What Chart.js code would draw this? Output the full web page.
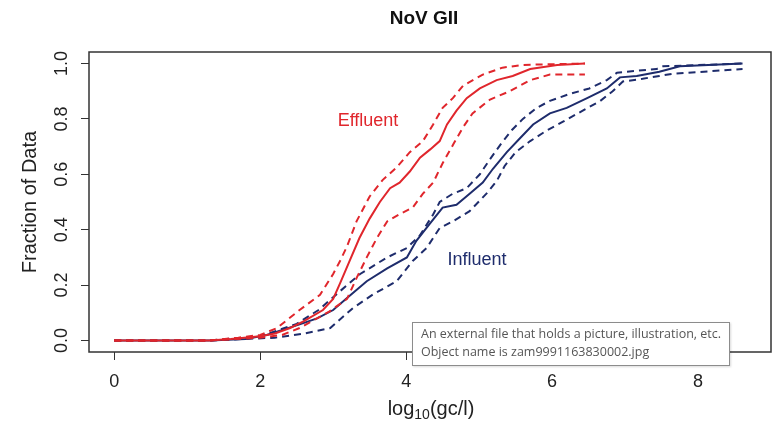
<!DOCTYPE html>
<html>
<head>
<meta charset="utf-8">
<script src="https://cdn.jsdelivr.net/npm/chart.js@4"></script>
<style>
  body { margin: 0; background: #fff; }
  .wrap { position: relative; width: 773px; height: 422px; }
  .tip {
    position: absolute; left: 412px; top: 322px; width: 308px; height: 40px;
    padding: 2px 0 0 8px; border: 1px solid #8c8c8c; background: #fff;
    font: 12.5px "Open Sans", sans-serif; color: #555; line-height: 18px;
    box-shadow: 1px 1px 2px rgba(0,0,0,0.15);
  }
</style>
</head>
<body>
<div class="wrap">
  <canvas id="myChart" width="773" height="422"></canvas>
  <div class="tip">An external file that holds a picture, illustration, etc.<br>Object name is zam9991163830002.jpg</div>
</div>
<script>
// tick labels
const xTicks = [0, 2, 4, 6, 8];
const yTicks = [0, 0.2, 0.4, 0.6, 0.8, 1.0];
const yTickLabels = ['0.0', '0.2', '0.4', '0.6', '0.8', '1.0'];

// effluent ECDF + bounds
const effMidX = [0, 1.3, 1.6, 2.0, 2.2, 2.41, 2.6, 2.86, 3.0, 3.1, 3.23, 3.36, 3.5, 3.64, 3.78, 3.91, 4.05, 4.19, 4.33, 4.46, 4.56, 4.69, 4.83, 5.01, 5.24, 5.46, 5.7, 6.07, 6.45];
const effMidY = [0, 0, 0.005, 0.015, 0.025, 0.045, 0.07, 0.11, 0.15, 0.21, 0.29, 0.37, 0.44, 0.50, 0.55, 0.57, 0.61, 0.66, 0.69, 0.72, 0.78, 0.83, 0.875, 0.91, 0.94, 0.955, 0.98, 0.995, 1.0];
const effHiX = [0, 1.3, 1.7, 2.0, 2.23, 2.54, 2.82, 3.0, 3.1, 3.19, 3.32, 3.5, 3.68, 3.87, 4.05, 4.23, 4.37, 4.5, 4.64, 4.78, 5.05, 5.32, 5.6, 6.45];
const effHiY = [0, 0, 0.01, 0.02, 0.045, 0.11, 0.165, 0.24, 0.29, 0.34, 0.43, 0.52, 0.58, 0.625, 0.68, 0.72, 0.78, 0.84, 0.875, 0.92, 0.96, 0.985, 0.995, 1.0];
const effLoX = [0, 1.3, 2.0, 2.3, 2.54, 2.95, 3.19, 3.32, 3.46, 3.6, 3.74, 3.91, 4.09, 4.23, 4.37, 4.5, 4.65, 4.78, 4.91, 5.15, 5.42, 5.7, 5.97, 6.45];
const effLoY = [0, 0, 0.01, 0.02, 0.045, 0.105, 0.15, 0.225, 0.30, 0.37, 0.43, 0.456, 0.48, 0.53, 0.57, 0.64, 0.71, 0.77, 0.82, 0.87, 0.90, 0.94, 0.96, 0.96];

// influent ECDF + bounds
const infMidX = [0, 1.3, 1.8, 2.09, 2.54, 2.78, 3.0, 3.19, 3.46, 3.74, 4.01, 4.14, 4.32, 4.5, 4.69, 4.87, 5.05, 5.19, 5.38, 5.56, 5.74, 5.97, 6.2, 6.48, 6.75, 6.93, 7.16, 7.47, 7.75, 8.61];
const infMidY = [0, 0, 0.005, 0.02, 0.058, 0.08, 0.11, 0.153, 0.214, 0.26, 0.30, 0.36, 0.42, 0.48, 0.49, 0.53, 0.57, 0.62, 0.68, 0.73, 0.78, 0.82, 0.84, 0.875, 0.91, 0.95, 0.955, 0.97, 0.99, 1.0];
const infHiX = [0, 1.3, 2.0, 2.5, 2.8, 3.09, 3.37, 3.74, 4.01, 4.19, 4.37, 4.46, 4.64, 4.83, 5.01, 5.15, 5.3, 5.45, 5.6, 5.79, 5.97, 6.24, 6.51, 6.75, 6.89, 7.16, 7.43, 7.52, 8.61];
const infHiY = [0, 0, 0.015, 0.06, 0.11, 0.177, 0.24, 0.30, 0.334, 0.38, 0.455, 0.50, 0.53, 0.55, 0.60, 0.655, 0.71, 0.76, 0.80, 0.84, 0.865, 0.89, 0.91, 0.94, 0.967, 0.974, 0.98, 0.99, 1.0];
const infLoX = [0, 1.3, 2.2, 2.6, 2.96, 3.27, 3.55, 3.87, 4.09, 4.28, 4.46, 4.64, 4.87, 5.1, 5.24, 5.35, 5.5, 5.7, 5.92, 6.15, 6.42, 6.66, 6.83, 6.97, 7.24, 7.47, 7.65, 8.61];
const infLoY = [0, 0, 0.01, 0.025, 0.045, 0.117, 0.167, 0.214, 0.287, 0.334, 0.406, 0.43, 0.467, 0.53, 0.575, 0.63, 0.68, 0.72, 0.757, 0.79, 0.83, 0.865, 0.90, 0.935, 0.945, 0.955, 0.963, 0.98];

const RED = '#e0262c';
const NAVY = '#1e2c6c';
const FONT = '"Liberation Sans", Arial, sans-serif';

const pts = (xs, ys) => xs.map((x, i) => ({ x: x, y: ys[i] }));
const curve = (xs, ys, color, dashed) => ({
  data: pts(xs, ys),
  borderColor: color,
  borderWidth: 2,
  borderDash: dashed ? [7, 5] : [],
  showLine: true,
  pointRadius: 0,
  tension: 0,
  fill: false
});

// box around the plot + all the R-style text
const rStyle = {
  id: 'rStyle',
  afterDraw(chart) {
    const c = chart.ctx;
    const a = chart.chartArea;
    const ys = chart.scales.y;
    c.save();
    c.strokeStyle = '#333';
    c.lineWidth = 1.5;
    c.strokeRect(a.left, a.top, a.right - a.left, a.bottom - a.top);

    c.fillStyle = '#111';
    c.font = 'bold 19px ' + FONT;
    c.textAlign = 'center';
    c.textBaseline = 'middle';
    c.fillText('NoV GII', 424, 19);

    // rotated y tick labels
    c.font = '18px ' + FONT;
    c.fillStyle = '#222';
    yTicks.forEach((v, i) => {
      c.save();
      c.translate(62, ys.getPixelForValue(v));
      c.rotate(-Math.PI / 2);
      c.fillText(yTickLabels[i], 0, 0);
      c.restore();
    });

    c.font = '20px ' + FONT;
    c.save();
    c.translate(30, (a.top + a.bottom) / 2);
    c.rotate(-Math.PI / 2);
    c.fillText('Fraction of Data', 0, 0);
    c.restore();

    // log10(gc/l) with subscript
    c.textAlign = 'left';
    c.textBaseline = 'alphabetic';
    const big = '20px ' + FONT, small = '14px ' + FONT;
    c.font = big; const w1 = c.measureText('log').width;
    c.font = small; const w2 = c.measureText('10').width;
    c.font = big; const w3 = c.measureText('(gc/l)').width;
    let x0 = 431 - (w1 + w2 + w3) / 2;
    c.fillText('log', x0, 415);
    c.font = small; c.fillText('10', x0 + w1, 419);
    c.font = big; c.fillText('(gc/l)', x0 + w1 + w2, 415);

    c.font = '18px ' + FONT;
    c.textAlign = 'center';
    c.textBaseline = 'middle';
    c.fillStyle = RED;
    c.fillText('Effluent', 368, 121);
    c.fillStyle = NAVY;
    c.fillText('Influent', 477, 260);
    c.restore();
  }
};

var ctx = document.getElementById('myChart').getContext('2d');
var myChart = new Chart(ctx, {
  type: 'scatter',
  data: {
    datasets: [
      curve(effMidX, effMidY, RED, false),
      curve(effHiX, effHiY, RED, true),
      curve(effLoX, effLoY, RED, true),
      curve(infMidX, infMidY, NAVY, false),
      curve(infHiX, infHiY, NAVY, true),
      curve(infLoX, infLoY, NAVY, true)
    ]
  },
  options: {
    responsive: false,
    animation: false,
    layout: { padding: { top: 52, right: 2, left: 0, bottom: 0 } },
    plugins: { legend: { display: false }, tooltip: { enabled: false } },
    scales: {
      x: {
        type: 'linear', min: -0.346, max: 9.0,
        afterBuildTicks: s => { s.ticks = xTicks.map(v => ({ value: v })); },
        afterFit: s => { s.height = 70; },
        grid: { drawOnChartArea: false, drawTicks: true, tickLength: 8, color: '#333', lineWidth: 1 },
        border: { display: false },
        ticks: { color: '#222', font: { size: 18, family: FONT }, padding: 11, maxRotation: 0 }
      },
      y: {
        min: -0.0416, max: 1.0416,
        afterBuildTicks: s => { s.ticks = yTicks.map(v => ({ value: v })); },
        afterFit: s => { s.width = 89; },
        grid: { drawOnChartArea: false, drawTicks: true, tickLength: 8, color: '#333', lineWidth: 1 },
        border: { display: false },
        ticks: { color: 'rgba(0,0,0,0)' }
      }
    }
  },
  plugins: [rStyle]
});
</script>
</body>
</html>
